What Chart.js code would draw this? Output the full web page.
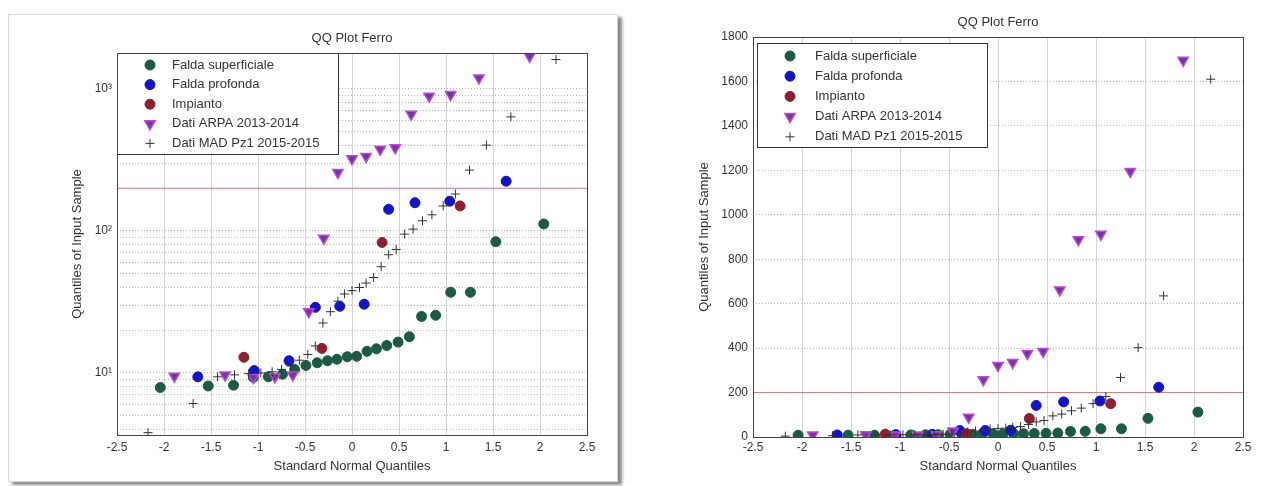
<!DOCTYPE html>
<html>
<head>
<meta charset="utf-8">
<script src="https://cdn.jsdelivr.net/npm/chart.js@4.4.1/dist/chart.umd.min.js"></script>
<style>
  body { margin: 0; background: #fff; width: 1271px; height: 486px; overflow: hidden; position: relative; }
  .panel { position: absolute; left: 8px; top: 14px; width: 608px; height: 466px; background: #fff;
           border: 1px solid #d8d8d8; box-shadow: 4px 3px 3px #8a8a8a; }
  canvas { position: absolute; top: 0; }
  #left { left: 0; }
  #right { left: 640px; }
</style>
</head>
<body>
<div class="panel"></div>
<canvas id="left" width="640" height="486"></canvas>
<canvas id="right" width="631" height="486"></canvas>
<script>
// theoretical normal quantiles (x) and sample values (y) for each data set
const QUANT_SUP = [-2.04,-1.53,-1.26,-1.05,-0.89,-0.74,-0.61,-0.49,-0.37,-0.26,-0.16,-0.05,0.05,0.16,0.26,0.37,0.49,0.61,0.74,0.89,1.05,1.26,1.53,2.04];
const FALDA_SUP = [7.9,8.1,8.2,9.3,9.4,9.8,10.6,11.3,11.8,12.2,12.5,13.0,13.1,14.2,14.8,15.6,16.5,18.0,25,25.5,37,37,84,112];

const QUANT_PROF = [-1.64,-1.04,-0.67,-0.39,-0.13,0.13,0.39,0.67,1.04,1.64];
const FALDA_PROF = [9.4,10.4,12.2,29,29.5,30.5,142,158,162,224];

const QUANT_IMP = [-1.15,-0.32,0.32,1.15];
const IMPIANTO = [12.9,14.9,83,150];

const QUANT_ARPA = [-1.89,-1.35,-1.05,-0.82,-0.63,-0.46,-0.30,-0.15,0,0.15,0.30,0.46,0.63,0.82,1.05,1.35,1.89];
const ARPA = [9.5,9.7,9.3,9.4,9.7,27,89,258,322,335,376,385,662,888,912,1195,1695];

const QUANT_MAD = [-2.17,-1.69,-1.43,-1.25,-1.10,-0.97,-0.85,-0.75,-0.65,-0.56,-0.47,-0.39,-0.31,-0.23,-0.15,-0.08,0,0.08,0.15,0.23,0.31,0.39,0.47,0.56,0.65,0.75,0.85,0.97,1.10,1.25,1.43,1.69,2.17];
const MAD = [3.8,6.1,9.4,9.7,9.9,10.0,10.2,10.6,11.2,12.3,13.5,15.5,22.5,27,32,36,38,40,43,47,56,68,74,95,103,118,130,150,182,268,402,635,1610];

const LABELS = ['Falda superficiale','Falda profonda','Impianto','Dati ARPA 2013-2014','Dati MAD Pz1 2015-2015'];
const THRESHOLD = 200;
const X_MIN = -2.5, X_MAX = 2.5;
const LOG_LABELS = {10: '10\u00B9', 100: '10\u00B2', 1000: '10\u00B3'};

const FONT = "'Liberation Sans', Arial, sans-serif";
const TXT = '#333';

Chart.defaults.font.family = FONT;
Chart.defaults.font.size = 12;
Chart.defaults.color = TXT;

const pts = (xs, ys) => xs.map((x, i) => ({x: x, y: ys[i]}));

function makeDatasets() {
  return [
    {label: LABELS[0], data: pts(QUANT_SUP, FALDA_SUP), pointStyle: 'circle', pointRadius: 5,
     backgroundColor: '#1d5a45', borderColor: '#1d5a45', borderWidth: 1, order: 5},
    {label: LABELS[1], data: pts(QUANT_PROF, FALDA_PROF), pointStyle: 'circle', pointRadius: 5,
     backgroundColor: '#1414c0', borderColor: '#1414c0', borderWidth: 1, order: 4},
    {label: LABELS[2], data: pts(QUANT_IMP, IMPIANTO), pointStyle: 'circle', pointRadius: 5,
     backgroundColor: '#8c1f30', borderColor: '#8c1f30', borderWidth: 1, order: 3},
    {label: LABELS[3], data: pts(QUANT_ARPA, ARPA), pointStyle: 'triangle', rotation: 180, pointRadius: 6,
     backgroundColor: '#6b3a9c', borderColor: '#c247d6', borderWidth: 1.5, order: 2},
    {label: LABELS[4], data: pts(QUANT_MAD, MAD), pointStyle: 'cross', pointRadius: 4.5,
     backgroundColor: '#333', borderColor: '#333', borderWidth: 1, order: 1},
    {label: 'soglia', inLegend: false, data: [{x: X_MIN, y: THRESHOLD}, {x: X_MAX, y: THRESHOLD}],
     showLine: true, pointRadius: 0, borderColor: '#c98080', borderWidth: 1, order: 6}
  ];
}

// legend drawn inside the axes, matlab style
const boxLegend = {
  id: 'boxLegend',
  afterDatasetsDraw(chart, args, o) {
    const {ctx, chartArea} = chart;
    const x0 = chartArea.left + o.dx, y0 = chartArea.top + o.dy;
    ctx.save();
    ctx.fillStyle = '#fff';
    ctx.fillRect(x0, y0, o.w, o.h);
    ctx.strokeStyle = '#333';
    ctx.lineWidth = 1;
    ctx.strokeRect(Math.round(x0) + 0.5, Math.round(y0) + 0.5, o.w, o.h);
    let row = 0;
    chart.data.datasets.forEach(ds => {
      if (ds.inLegend === false) return;
      const y = y0 + o.first + row * o.step;
      ctx.fillStyle = ds.backgroundColor;
      ctx.strokeStyle = ds.borderColor;
      ctx.lineWidth = ds.borderWidth;
      Chart.helpers.drawPoint(ctx, {pointStyle: ds.pointStyle, rotation: ds.rotation || 0,
        radius: ds.pointRadius, borderWidth: ds.borderWidth}, x0 + o.markX, y);
      ctx.fillStyle = TXT;
      ctx.font = '13px ' + FONT;
      ctx.textBaseline = 'middle';
      ctx.textAlign = 'left';
      ctx.fillText(ds.label, x0 + o.textX, y);
      row++;
    });
    ctx.restore();
  }
};

const frame = {
  id: 'frame',
  afterDraw(chart) {
    const {ctx, chartArea: a} = chart;
    ctx.save();
    ctx.strokeStyle = '#444';
    ctx.lineWidth = 1;
    ctx.strokeRect(Math.round(a.left) + 0.5, Math.round(a.top) + 0.5, Math.round(a.width), Math.round(a.height));
    ctx.restore();
  }
};

function xScale(h, pad) {
  return {
    type: 'linear', min: X_MIN, max: X_MAX,
    ticks: {stepSize: 0.5, padding: pad, color: TXT, callback: v => String(v)},
    grid: {color: '#d4d4d4', drawTicks: false},
    border: {display: false},
    title: {display: true, text: 'Standard Normal Quantiles', color: TXT, font: {size: 13}, padding: {top: 0, bottom: 2}},
    afterFit: s => { s.height = h; }
  };
}

function yTitle() {
  return {display: true, text: 'Quantiles of Input Sample', color: TXT, font: {size: 13}, padding: {top: 5, bottom: 0}};
}

function plotTitle(top, bottom) {
  return {display: true, fullSize: false, text: 'QQ Plot Ferro', color: TXT,
          font: {size: 13, weight: 'normal'}, padding: {top: top, bottom: bottom}};
}

// left: log axis
new Chart(document.getElementById('left'), {
  type: 'scatter',
  data: {datasets: makeDatasets()},
  options: {
    responsive: false, animation: false, devicePixelRatio: 1,
    layout: {padding: {left: 65, right: 53, top: 25, bottom: 10}},
    plugins: {
      legend: {display: false}, tooltip: {enabled: false},
      title: plotTitle(6, 6.4),
      boxLegend: {dx: 0, dy: 0, w: 221, h: 101, first: 12, step: 19.6, markX: 33, textX: 55}
    },
    scales: {
      x: xScale(41, 5),
      y: {
        type: 'logarithmic', min: 3.66, max: 1790,
        afterBuildTicks: s => {
          const t = [];
          for (let d = 1; d <= 1000; d *= 10)
            for (let m = 1; m <= 9; m++) {
              const v = m * d;
              if (v >= s.min && v <= s.max) t.push({value: v});
            }
          s.ticks = t;
        },
        ticks: {padding: 5, color: TXT, autoSkip: false, callback: v => LOG_LABELS[v] || ''},
        grid: {color: '#b8b8b8', drawTicks: false},
        border: {display: false, dash: [1, 2]},
        title: yTitle(),
        afterFit: s => { s.width = 52; }
      }
    }
  },
  plugins: [boxLegend, frame]
});

// right: linear axis
new Chart(document.getElementById('right'), {
  type: 'scatter',
  data: {datasets: makeDatasets()},
  options: {
    responsive: false, animation: false, devicePixelRatio: 1,
    layout: {padding: {left: 52, right: 28, top: 10, bottom: 10}},
    plugins: {
      legend: {display: false}, tooltip: {enabled: false},
      title: plotTitle(5, 6.4),
      boxLegend: {dx: 4, dy: 6, w: 230, h: 104, first: 13, step: 20.2, markX: 33, textX: 58}
    },
    scales: {
      x: xScale(39, 3),
      y: {
        type: 'linear', min: 0, max: 1800,
        ticks: {stepSize: 200, padding: 5, color: TXT, callback: v => String(v)},
        grid: {color: '#b8b8b8', drawTicks: false},
        border: {display: false, dash: [1, 2]},
        title: yTitle(),
        afterFit: s => { s.width = 61; }
      }
    }
  },
  plugins: [boxLegend, frame]
});
</script>
</body>
</html>
